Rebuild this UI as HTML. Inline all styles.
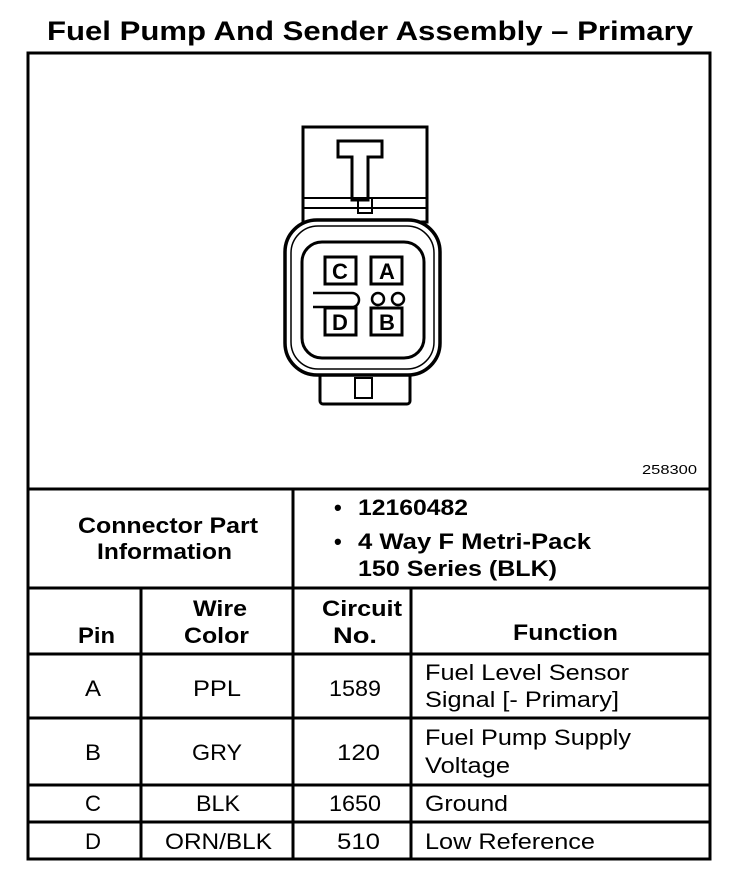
<!DOCTYPE html>
<html><head><meta charset="utf-8"><style>
html,body{margin:0;padding:0;background:#fff;}
svg{display:block;}
text{font-family:"Liberation Sans",sans-serif;fill:#000;}
.b{font-weight:bold;}
</style></head><body>
<svg width="752" height="880" viewBox="0 0 752 880" xmlns="http://www.w3.org/2000/svg">
<text x="47" y="40" class="b" font-size="27" textLength="646" lengthAdjust="spacingAndGlyphs">Fuel Pump And Sender Assembly – Primary</text>
<g fill="none" stroke="#000" stroke-width="3">
<rect x="28" y="53" width="682" height="806"/>
<line x1="28" y1="489" x2="710" y2="489"/>
<line x1="28" y1="588" x2="710" y2="588"/>
<line x1="28" y1="654" x2="710" y2="654"/>
<line x1="28" y1="718" x2="710" y2="718"/>
<line x1="28" y1="785" x2="710" y2="785"/>
<line x1="28" y1="822" x2="710" y2="822"/>
<line x1="293" y1="489" x2="293" y2="588"/>
<line x1="141" y1="588" x2="141" y2="859"/>
<line x1="293" y1="588" x2="293" y2="859"/>
<line x1="411" y1="588" x2="411" y2="859"/>
</g>
<g fill="none" stroke="#000" stroke-width="3">
<rect x="303" y="127" width="124" height="95"/>
<path d="M338 141 H382 V157 H368 V200 H352 V157 H338 Z"/>
<line x1="303" y1="198" x2="427" y2="198" stroke-width="2"/>
<line x1="303" y1="208" x2="427" y2="208" stroke-width="2"/>
<rect x="358" y="198" width="14" height="15" stroke-width="2"/>
<rect x="320" y="370" width="90" height="34" rx="3"/>
<rect x="355" y="378" width="17" height="20" stroke-width="2"/>
<rect x="285" y="220" width="155" height="155" rx="32" fill="#fff" stroke-width="3.5"/>
<rect x="291" y="226" width="143" height="143" rx="27" stroke-width="1.5"/>
<rect x="302" y="242" width="122" height="116" rx="20" stroke-width="3"/>
<rect x="325" y="257" width="31" height="27" stroke-width="3"/>
<rect x="371" y="257" width="31" height="27" stroke-width="3"/>
<rect x="325" y="308" width="31" height="27" stroke-width="3"/>
<rect x="371" y="308" width="31" height="27" stroke-width="3"/>
<path d="M313 293 H352 A7 7 0 0 1 352 307 H313" stroke-width="2.5"/>
<circle cx="378" cy="299" r="6" stroke-width="2.5"/>
<circle cx="398" cy="299" r="6" stroke-width="2.5"/>
</g>
<g class="b" font-size="22" text-anchor="middle">
<text x="340" y="279">C</text><text x="387" y="279">A</text>
<text x="340" y="330">D</text><text x="387" y="330">B</text>
</g>
<text x="642" y="474" font-size="13" textLength="55" lengthAdjust="spacingAndGlyphs">258300</text>
<g class="b" font-size="22" lengthAdjust="spacingAndGlyphs">
<text x="78" y="533" textLength="180" lengthAdjust="spacingAndGlyphs">Connector Part</text>
<text x="97" y="559" textLength="135" lengthAdjust="spacingAndGlyphs">Information</text>
<text x="334" y="515">•</text>
<text x="358" y="515" textLength="110" lengthAdjust="spacingAndGlyphs">12160482</text>
<text x="334" y="549">•</text>
<text x="358" y="549" textLength="233" lengthAdjust="spacingAndGlyphs">4 Way F Metri-Pack</text>
<text x="358" y="576" textLength="199" lengthAdjust="spacingAndGlyphs">150 Series (BLK)</text>
<text x="78" y="643" textLength="37" lengthAdjust="spacingAndGlyphs">Pin</text>
<text x="193" y="616" textLength="54" lengthAdjust="spacingAndGlyphs">Wire</text>
<text x="184" y="643" textLength="65" lengthAdjust="spacingAndGlyphs">Color</text>
<text x="322" y="616" textLength="80" lengthAdjust="spacingAndGlyphs">Circuit</text>
<text x="333" y="643" textLength="44" lengthAdjust="spacingAndGlyphs">No.</text>
<text x="513" y="640" textLength="105" lengthAdjust="spacingAndGlyphs">Function</text>
</g>
<g font-size="22">
<text x="85" y="696" textLength="16" lengthAdjust="spacingAndGlyphs">A</text>
<text x="193" y="696" textLength="48" lengthAdjust="spacingAndGlyphs">PPL</text>
<text x="329" y="696" textLength="52" lengthAdjust="spacingAndGlyphs">1589</text>
<text x="425" y="680" textLength="204" lengthAdjust="spacingAndGlyphs">Fuel Level Sensor</text>
<text x="425" y="707" textLength="194" lengthAdjust="spacingAndGlyphs">Signal [- Primary]</text>
<text x="85" y="760" textLength="16" lengthAdjust="spacingAndGlyphs">B</text>
<text x="192" y="760" textLength="50" lengthAdjust="spacingAndGlyphs">GRY</text>
<text x="337" y="760" textLength="43" lengthAdjust="spacingAndGlyphs">120</text>
<text x="425" y="745" textLength="206" lengthAdjust="spacingAndGlyphs">Fuel Pump Supply</text>
<text x="425" y="773" textLength="85" lengthAdjust="spacingAndGlyphs">Voltage</text>
<text x="85" y="811" textLength="16" lengthAdjust="spacingAndGlyphs">C</text>
<text x="196" y="811" textLength="44" lengthAdjust="spacingAndGlyphs">BLK</text>
<text x="329" y="811" textLength="52" lengthAdjust="spacingAndGlyphs">1650</text>
<text x="425" y="811" textLength="83" lengthAdjust="spacingAndGlyphs">Ground</text>
<text x="85" y="849" textLength="16" lengthAdjust="spacingAndGlyphs">D</text>
<text x="165" y="849" textLength="107" lengthAdjust="spacingAndGlyphs">ORN/BLK</text>
<text x="337" y="849" textLength="43" lengthAdjust="spacingAndGlyphs">510</text>
<text x="425" y="849" textLength="170" lengthAdjust="spacingAndGlyphs">Low Reference</text>
</g>
</svg>
</body></html>
